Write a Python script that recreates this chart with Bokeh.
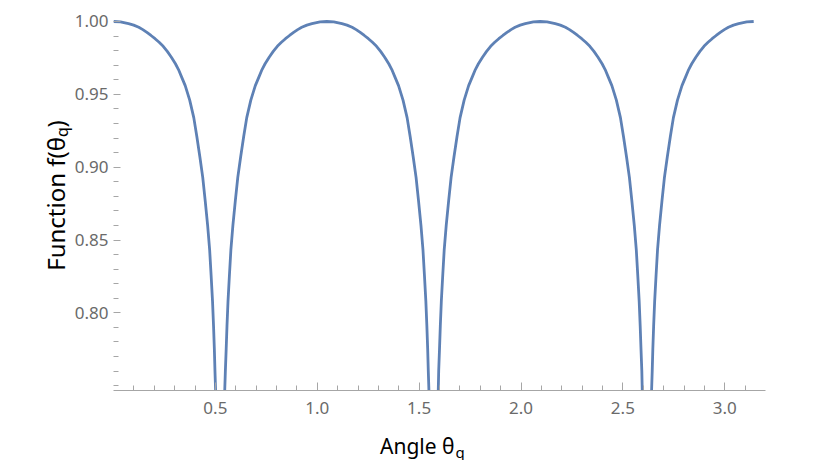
from bokeh.plotting import figure
from bokeh.models import Range1d, FixedTicker, Label, NumeralTickFormatter
from bokeh.embed import file_html
from bokeh.resources import INLINE

# ---- data (theta in rad, f value) ----
# values of one half-arch, falling from a peak towards a dip (and rising back)
f_fall = [0.9997, 0.9985, 0.9975, 0.996, 0.9944, 0.9925, 0.9904, 0.9882, 0.9857, 0.983,
          0.9795, 0.9755, 0.971, 0.967, 0.962, 0.956, 0.946, 0.934, 0.921, 0.907,
          0.893, 0.877, 0.860, 0.843, 0.826, 0.808, 0.791, 0.775, 0.760, 0.747, 0.700]
f_rise = [0.700, 0.747, 0.760, 0.775, 0.791, 0.808, 0.826, 0.843, 0.860, 0.877,
          0.893, 0.907, 0.921, 0.934, 0.946, 0.956, 0.962, 0.967, 0.971, 0.9755,
          0.9795, 0.983, 0.9857, 0.9882, 0.9904, 0.9925, 0.9944, 0.996, 0.9975, 0.9985,
          0.9997, 1.000]

theta_a = [0.000, 0.034, 0.074, 0.099, 0.124, 0.144, 0.164, 0.184, 0.204, 0.224,
           0.244, 0.264, 0.284, 0.304, 0.319, 0.334, 0.352, 0.374, 0.394, 0.409,
           0.424, 0.438, 0.450, 0.462, 0.472, 0.479, 0.486, 0.491, 0.495, 0.498,
           0.501, 0.512]
f_a = [1.000] + f_fall

theta_b = [0.536, 0.546, 0.549, 0.553, 0.557, 0.562, 0.569, 0.576, 0.586, 0.598,
           0.610, 0.624, 0.639, 0.654, 0.674, 0.696, 0.714, 0.729, 0.744, 0.764,
           0.784, 0.804, 0.824, 0.844, 0.864, 0.884, 0.904, 0.924, 0.949, 0.974,
           1.014, 1.047,
           1.081, 1.121, 1.146, 1.171, 1.191, 1.211, 1.231, 1.251, 1.271, 1.291,
           1.311, 1.331, 1.351, 1.366, 1.381, 1.399, 1.421, 1.441, 1.456, 1.471,
           1.485, 1.497, 1.509, 1.519, 1.526, 1.533, 1.538, 1.542, 1.545, 1.548,
           1.559]
f_b = f_rise + f_fall

theta_c = [1.583, 1.594, 1.596, 1.600, 1.604, 1.609, 1.616, 1.623, 1.633, 1.645,
           1.657, 1.671, 1.686, 1.701, 1.721, 1.743, 1.761, 1.776, 1.791, 1.811,
           1.831, 1.851, 1.871, 1.891, 1.911, 1.931, 1.951, 1.971, 1.996, 2.021,
           2.061, 2.094,
           2.128, 2.168, 2.193, 2.218, 2.238, 2.258, 2.278, 2.298, 2.318, 2.338,
           2.358, 2.378, 2.398, 2.413, 2.428, 2.446, 2.468, 2.488, 2.503, 2.518,
           2.532, 2.544, 2.556, 2.566, 2.573, 2.580, 2.585, 2.589, 2.593, 2.595,
           2.606]
f_c = f_rise + f_fall

theta_d = [2.630, 2.641, 2.644, 2.647, 2.651, 2.656, 2.663, 2.670, 2.680, 2.692,
           2.704, 2.718, 2.733, 2.748, 2.768, 2.790, 2.808, 2.823, 2.838, 2.858,
           2.878, 2.898, 2.918, 2.938, 2.958, 2.978, 2.998, 3.018, 3.043, 3.068,
           3.108, 3.142]
f_d = f_rise

x_major = [0.5, 1.0, 1.5, 2.0, 2.5, 3.0]
x_minor = [0.1, 0.2, 0.3, 0.4, 0.6, 0.7, 0.8, 0.9, 1.1, 1.2, 1.3, 1.4, 1.6, 1.7,
           1.8, 1.9, 2.1, 2.2, 2.3, 2.4, 2.6, 2.7, 2.8, 2.9, 3.1]
y_major = [0.80, 0.85, 0.90, 0.95, 1.00]
y_minor = [0.75, 0.76, 0.77, 0.78, 0.79, 0.81, 0.82, 0.83, 0.84, 0.86, 0.87,
           0.88, 0.89, 0.91, 0.92, 0.93, 0.94, 0.96, 0.97, 0.98, 0.99]

x_label = "Angle θ"
y_label = "Function f(θ"
sub_label = "q"

FONT = "Noto Sans"
LINE = "#5E81B5"
AXIS = "#a6a6a6"
TICKLBL = "#6a6a6a"

X0, X1 = 0.0, 3.2
Y0, Y1 = 0.7467, 1.0048
p = figure(width=822, height=460, output_backend="svg", toolbar_location=None,
           x_range=Range1d(X0, X1), y_range=Range1d(Y0, Y1),
           min_border_left=113, min_border_right=57, min_border_top=14,
           min_border_bottom=70)
p.outline_line_color = None
p.grid.visible = False
p.background_fill_color = "white"
p.border_fill_color = "white"

for xs, ys in [(theta_a, f_a), (theta_b, f_b), (theta_c, f_c), (theta_d, f_d)]:
    p.line(xs, ys, line_color=LINE, line_width=2.8, line_join="round")

xa = p.xaxis[0]
xa.ticker = FixedTicker(ticks=x_major, minor_ticks=x_minor)
xa.formatter = NumeralTickFormatter(format="0.0")
xa.major_tick_in = 8
xa.major_tick_out = 0
xa.minor_tick_in = 5
xa.minor_tick_out = 0
xa.axis_line_color = AXIS
xa.major_tick_line_color = AXIS
xa.minor_tick_line_color = AXIS
xa.major_label_text_font = FONT
xa.major_label_text_font_size = "17px"
xa.major_label_text_color = TICKLBL
xa.major_label_standoff = 11

ya = p.yaxis[0]
ya.ticker = FixedTicker(ticks=y_major, minor_ticks=y_minor)
ya.formatter = NumeralTickFormatter(format="0.00")
ya.axis_line_color = None
ya.major_tick_in = 7
ya.major_tick_out = 0
ya.minor_tick_in = 5
ya.minor_tick_out = 0
ya.major_tick_line_color = AXIS
ya.minor_tick_line_color = AXIS
ya.major_label_text_font = FONT
ya.major_label_text_font_size = "17px"
ya.major_label_text_color = TICKLBL
ya.major_label_standoff = 5

# pixel -> data helpers for the axis titles (frame: x 113..765, y 14..390)
PX = (X1 - X0) / 652.0
PY = (Y1 - Y0) / 376.0
def dx(px):
    return X0 + (px - 113) * PX
def dy(py):
    return Y0 + (390 - py) * PY

# x title: "Angle θ" + subscript q
p.add_layout(Label(x=dx(454), y=dy(445), text=x_label,
                   text_font=FONT, text_font_size="21px", text_color="black",
                   text_align="right", text_baseline="alphabetic"), "below")
p.add_layout(Label(x=dx(455), y=dy(451), text=sub_label,
                   text_font=FONT, text_font_size="15px", text_color="black",
                   text_align="left", text_baseline="alphabetic"), "left")
# y title: "Function f(θ" + subscript q + ")"
p.add_layout(Label(x=dx(55), y=dy(136.5), text=y_label,
                   angle=90, angle_units="deg",
                   text_font=FONT, text_font_size="24px", text_color="black",
                   text_align="right", text_baseline="alphabetic"), "right")
p.add_layout(Label(x=dx(61), y=dy(136.5), text=sub_label,
                   angle=90, angle_units="deg",
                   text_font=FONT, text_font_size="16px", text_color="black",
                   text_align="left", text_baseline="alphabetic"), "right")
p.add_layout(Label(x=dx(55), y=dy(127), text=")",
                   angle=90, angle_units="deg",
                   text_font=FONT, text_font_size="24px", text_color="black",
                   text_align="left", text_baseline="alphabetic"), "left")

open("out.html", "w").write(file_html(p, INLINE))
